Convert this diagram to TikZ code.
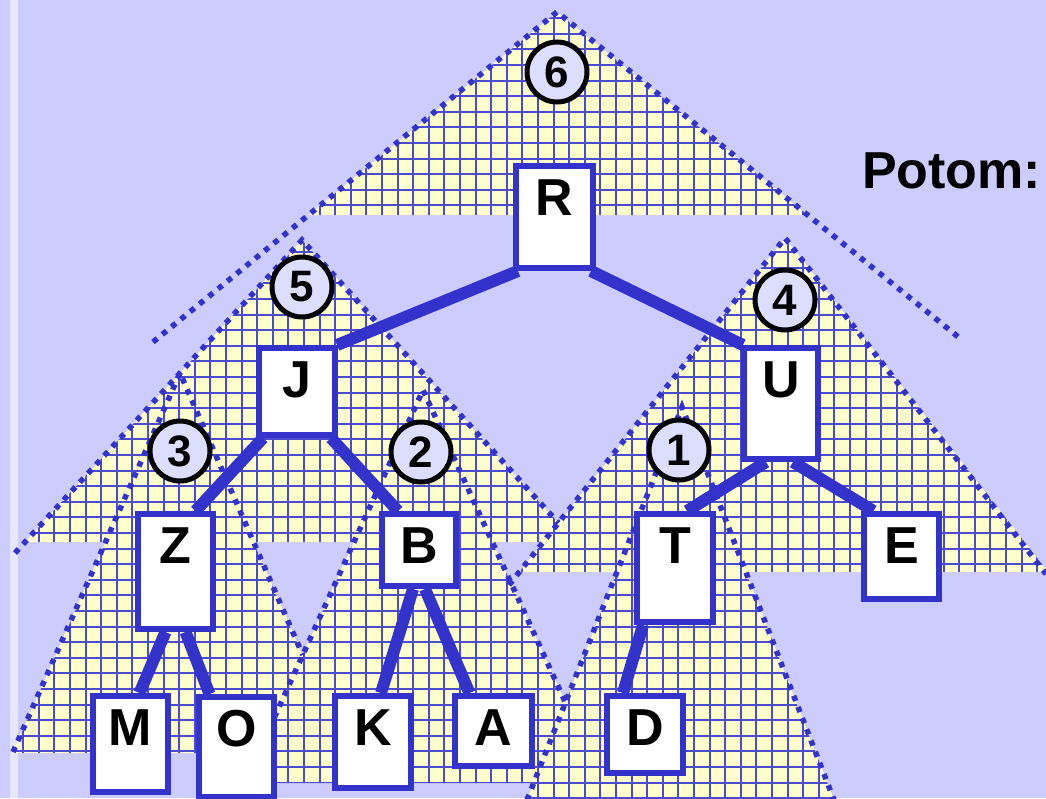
\documentclass[tikz,border=0pt]{standalone}
\usepackage{fontspec}
\setmainfont{Liberation Sans}
\definecolor{bgc}{RGB}{204,204,255}
\definecolor{stripc}{RGB}{230,230,255}
\definecolor{yel}{RGB}{255,255,204}
\definecolor{bl}{RGB}{51,51,204}
\definecolor{gridc}{RGB}{75,75,205}
\definecolor{circf}{RGB}{221,221,255}
\pgfdeclarelayer{tri}
\pgfdeclarelayer{links}
\pgfsetlayers{tri,links,main}
\tikzset{
  dots/.style={draw=bl, line width=5.5pt, dash pattern=on 5.5pt off 6.5pt},
  gridl/.style={draw=gridc, line width=2pt},
  box/.style={draw=bl, line width=6pt, fill=white, inner sep=0pt, anchor=north west},
  lab/.style={font=\fontsize{52}{52}\selectfont\bfseries, inner sep=0pt, anchor=base},
  link/.style={draw=bl, line width=12pt},
  circ/.style={circle, draw=black, line width=5pt, fill=circf, minimum size=60pt, inner sep=0pt, font=\fontsize{44}{44}\selectfont\bfseries}
}
\begin{document}
\begin{tikzpicture}[x=1pt,y=-1pt]
\useasboundingbox (0,0) rectangle (1046,798);
\begin{pgfonlayer}{tri}
\fill[bgc] (0,0) rectangle (1046,798);
\fill[stripc] (9.5,0) rectangle (18,798);
\begin{scope}
\clip (557,12) -- (308.5,215) -- (807.7,215) -- cycle
      (302,240) -- (25,542) -- (575.6,542) -- cycle
      (785,238) -- (519.5,572) -- (1046,572) -- (1046,569) -- cycle
      (180,373) -- (12.6,753) -- (345,753) -- cycle
      (423,390) -- (244.6,783) -- (602.2,783) -- cycle
      (682,407) -- (527,800) -- (834,800) -- cycle;
\fill[yel] (0,0) rectangle (1046,798);
\foreach \i in {0,...,67} \draw[gridl] ({7.5+15.6*\i},0) -- ++(0,798);
\foreach \j in {0,...,51} \draw[gridl] (0,{2.6+15.6*\j}) -- ++(1046,0);
\end{scope}
% dotted outlines
\draw[dots] (153,342) -- (557,12) -- (962,340);
\draw[dots] (15,553) -- (302,240) -- (558.4,523);
\draw[dots] (509,585) -- (785,238) -- (1046,574);
\draw[dots] (13,752) -- (180,373) -- (302.7,655);
\draw[dots] (244.6,783) -- (423,390) -- (565.5,702.6);
\draw[dots] (527,800) -- (682,407) -- (834,800);
\end{pgfonlayer}
% boxes
\node[box, minimum width=77pt, minimum height=102pt] (R) at (513,163) {};
\node[box, minimum width=76pt, minimum height=87pt]  (J) at (256,345) {};
\node[box, minimum width=74pt, minimum height=111pt] (U) at (741,345) {};
\node[box, minimum width=75pt, minimum height=115pt] (Z) at (135,511) {};
\node[box, minimum width=74pt, minimum height=72pt]  (B) at (379,511) {};
\node[box, minimum width=76pt, minimum height=108pt] (T) at (634,511) {};
\node[box, minimum width=75pt, minimum height=85pt]  (E) at (861,511) {};
\node[box, minimum width=75pt, minimum height=96pt]  (M) at (90,693) {};
\node[box, minimum width=75pt, minimum height=100pt] (O) at (196,694) {};
\node[box, minimum width=76pt, minimum height=92pt]  (K) at (332,693) {};
\node[box, minimum width=77pt, minimum height=70pt]  (A) at (452,693) {};
\node[box, minimum width=76pt, minimum height=77pt]  (D) at (604,693) {};
\foreach \n in {R,J,U,Z,B,T,E,M,O,K,A,D}
  \node[lab] (\n t) at ([yshift=-52pt]\n.north) {\n};
% tree edges
\begin{pgfonlayer}{links}
\draw[link] ([xshift=5pt]R.south west) -- ([xshift=-1pt]J.north east);
\draw[link] ([xshift=-5pt]R.south east) -- ([xshift=2pt]U.north west);
\draw[link] ([xshift=7pt]J.south west) -- ([xshift=20pt]Z.north);
\draw[link] ([xshift=-7pt]J.south east) -- ([xshift=-21pt]B.north);
\draw[link] ([xshift=-10pt]Z.south) -- ([xshift=9pt]M.north);
\draw[link] ([xshift=10pt]Z.south) -- ([xshift=-27pt]O.north);
\draw[link] ([xshift=-6pt]B.south) -- ([xshift=8pt]K.north);
\draw[link] ([xshift=6pt]B.south) -- ([xshift=-24pt]A.north);
\draw[link] ([xshift=-15pt]U.south) -- ([xshift=12pt]T.north);
\draw[link] ([xshift=12pt]U.south) -- ([xshift=-28pt]E.north);
\draw[link] ([xshift=-32pt]T.south) -- ([xshift=-22pt]D.north);
\end{pgfonlayer}
% numbered circles
\node[circ] (c6) at (557,72) {6};
\node[circ] (c5) at (302,287) {5};
\node[circ] (c4) at (785,300) {4};
\node[circ] (c3) at (180,451) {3};
\node[circ] (c2) at (421,452) {2};
\node[circ] (c1) at (679,450) {1};
\node[font=\fontsize{52}{52}\selectfont\bfseries, inner sep=0pt, anchor=base west] (potom) at (862,188) {Potom:};
\end{tikzpicture}
\end{document}
